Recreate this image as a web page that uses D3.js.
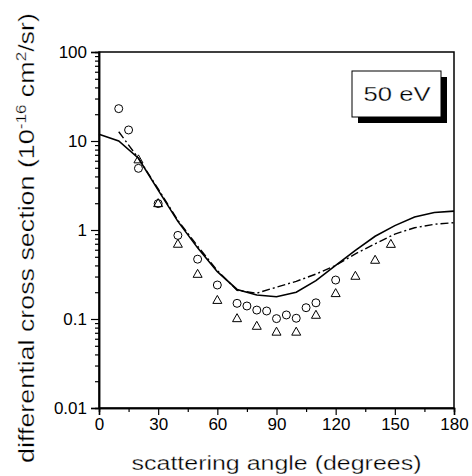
<!DOCTYPE html>
<html>
<head>
<meta charset="utf-8">
<script src="https://cdn.jsdelivr.net/npm/d3@7"></script>
<style>
  body { margin: 0; background: #fff; }
  text { font-family: "Liberation Sans", Arial, sans-serif; font-weight: normal; fill: #000; }
  .thin { stroke: #fff; stroke-width: 0.3px; }
</style>
</head>
<body>
<svg id="chart" width="472" height="476"></svg>
<script>
// experimental points (circles)
const circleAngle = [10, 15, 20, 30, 40, 50, 60, 70, 75, 80, 85, 90, 95, 100, 105, 110, 120];
const circleDcs = [23.1, 13.3, 4.93, 1.98, 0.87, 0.47, 0.241, 0.150, 0.140, 0.126, 0.123, 0.101, 0.111, 0.102, 0.134, 0.152, 0.274];

// experimental points (triangles)
const triAngle = [20, 30, 40, 50, 60, 70, 80, 90, 100, 110, 120, 130, 140, 148];
const triDcs = [6.3, 2.03, 0.71, 0.326, 0.166, 0.1035, 0.085, 0.073, 0.073, 0.113, 0.198, 0.31, 0.469, 0.708];

// theory, solid
const solidAngle = [0, 10, 20, 30, 40, 50, 60, 70, 80, 90, 100, 110, 120, 130, 140, 150, 160, 170, 180];
const solidDcs = [11.9, 10.0, 6.4, 2.8, 1.25, 0.63, 0.34, 0.215, 0.186, 0.178, 0.20, 0.27, 0.40, 0.59, 0.85, 1.12, 1.40, 1.57, 1.63];

// theory, dash-dot
const dashAngle = [10, 20, 30, 40, 50, 60, 70, 80, 90, 100, 110, 120, 130, 140, 150, 160, 170, 180];
const dashDcs = [12.7, 6.4, 2.9, 1.28, 0.66, 0.35, 0.21, 0.195, 0.228, 0.265, 0.32, 0.40, 0.54, 0.70, 0.90, 1.06, 1.16, 1.21];

const xTicks = [0, 30, 60, 90, 120, 150, 180];
const yTicks = [0.01, 0.1, 1, 10, 100];
const yTickLabels = ["0.01", "0.1", "1", "10", "100"];
const legendLabel = "50 eV";

const svg = d3.select("#chart");
const plotL = 99, plotR = 454, plotT = 52, plotB = 408;

const x = d3.scaleLinear().domain([0, 180]).range([plotL, plotR]);
const y = d3.scaleLog().domain([0.01, 100]).range([plotB, plotT]);

// minor y ticks
let yMinor = [];
for (let e = -2; e < 2; e++) {
    for (let k = 2; k <= 9; k++) yMinor.push(k * Math.pow(10, e));
}
let xMinor = d3.range(15, 180, 30);

// frame
svg.append("rect")
    .attr("x", plotL).attr("y", plotT)
    .attr("width", plotR - plotL).attr("height", plotB - plotT)
    .attr("fill", "none").attr("stroke", "#000").attr("stroke-width", 1.5);

// axes
let gx = svg.append("g").attr("transform", `translate(0,${plotB})`);
gx.call(d3.axisBottom(x).tickValues(xTicks).tickSize(7).tickPadding(3).tickFormat(d3.format("d")));
let gxm = svg.append("g").attr("transform", `translate(0,${plotB})`);
gxm.call(d3.axisBottom(x).tickValues(xMinor).tickSize(4).tickFormat(""));

let gy = svg.append("g").attr("transform", `translate(${plotL},0)`);
gy.call(d3.axisLeft(y).tickValues(yTicks).tickSize(8).tickPadding(4).tickFormat((d, i) => yTickLabels[i]));
let gym = svg.append("g").attr("transform", `translate(${plotL},0)`);
gym.call(d3.axisLeft(y).tickValues(yMinor).tickSize(4).tickFormat(""));

svg.selectAll(".domain").attr("stroke", "#000").attr("stroke-width", 1.5);
svg.selectAll(".tick line").attr("stroke", "#000").attr("stroke-width", 1.2);
svg.selectAll(".tick text")
    .style("font-family", '"Liberation Sans", Arial, sans-serif')
    .style("font-size", "17px")
    .attr("fill", "#000");

// lines
let line = d3.line().x(d => x(d[0])).y(d => y(d[1]));

svg.append("path")
    .datum(solidAngle.map((a, i) => [a, solidDcs[i]]))
    .attr("d", line)
    .attr("fill", "none").attr("stroke", "#000").attr("stroke-width", 1.6);

svg.append("path")
    .datum(dashAngle.map((a, i) => [a, dashDcs[i]]))
    .attr("d", line)
    .attr("fill", "none").attr("stroke", "#000").attr("stroke-width", 1.4)
    .attr("stroke-dasharray", "8,3,2,3");

// points
svg.selectAll("circle.pt")
    .data(circleAngle.map((a, i) => [a, circleDcs[i]]))
    .enter().append("circle")
    .attr("class", "pt")
    .attr("cx", d => x(d[0]))
    .attr("cy", d => y(d[1]))
    .attr("r", 4)
    .attr("fill", "none").attr("stroke", "#000").attr("stroke-width", 1);

svg.selectAll("path.tri")
    .data(triAngle.map((a, i) => [a, triDcs[i]]))
    .enter().append("path")
    .attr("class", "tri")
    .attr("d", d => {
        let cx = x(d[0]), cy = y(d[1]);
        return `M${cx - 4.5},${cy + 4}L${cx + 4.5},${cy + 4}L${cx},${cy - 4}Z`;
    })
    .attr("fill", "none").attr("stroke", "#000").attr("stroke-width", 1);

// stretch a text element along its own direction so it spans a given length
function stretchTo(sel, len) {
    let w = sel.node().getComputedTextLength();
    sel.attr("transform", `scale(${len / w},1)`);
}

// legend box with shadow
let lg = svg.append("g");
lg.append("rect").attr("x", 358).attr("y", 77).attr("width", 89).attr("height", 46).attr("fill", "#000");
lg.append("rect").attr("x", 352).attr("y", 71).attr("width", 89).attr("height", 46)
    .attr("fill", "#fff").attr("stroke", "#000").attr("stroke-width", 1);
let lgt = lg.append("g").attr("transform", "translate(397,101)")
    .append("text").attr("class", "thin").attr("text-anchor", "middle").style("font-size", "21px").text(legendLabel);
stretchTo(lgt, 67);

// x title
let xt = svg.append("g").attr("transform", "translate(276.5,470)")
    .append("text").attr("class", "thin").attr("text-anchor", "middle").style("font-size", "20px")
    .text("scattering angle (degrees)");
stretchTo(xt, 290);

// y title
let yt = svg.append("g").attr("transform", "translate(34,238) rotate(-90)")
    .append("text").attr("class", "thin").attr("text-anchor", "middle").style("font-size", "22px");
yt.append("tspan").text("differential cross section (10");
yt.append("tspan").attr("dy", -8).style("font-size", "14px").text("-16");
yt.append("tspan").attr("dy", 8).text(" cm");
yt.append("tspan").attr("dy", -8).style("font-size", "14px").text("2");
yt.append("tspan").attr("dy", 8).text("/sr)");
stretchTo(yt, 450);
</script>
</body>
</html>
